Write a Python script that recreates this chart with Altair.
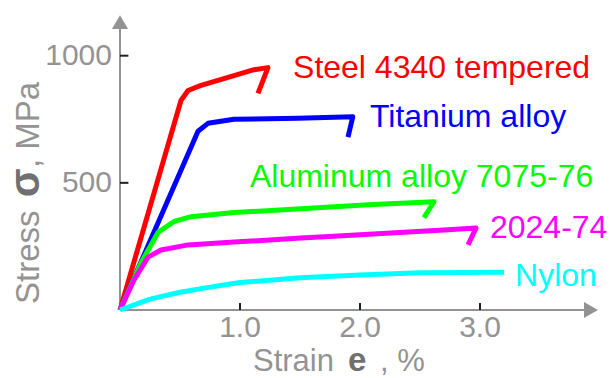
import altair as alt
import pandas as pd

# Stress-strain curves (strain in %, stress in MPa), drawn point by point
steel_strain = [0.0, 0.508, 0.567, 0.675, 0.95, 1.117, 1.233, 1.15]
steel_stress = [0, 824, 863, 883, 922, 945, 953, 852]

titanium_strain = [0.0, 0.65, 0.733, 0.95, 1.48, 1.94, 1.90]
titanium_stress = [0, 703, 734, 750, 754, 760, 680]

al7075_strain = [0.0, 0.175, 0.317, 0.45, 0.592, 0.95, 1.508, 2.067, 2.617, 2.533]
al7075_stress = [0, 185, 305, 348, 367, 383, 398, 414, 426, 363]

al2024_strain = [0.0, 0.117, 0.233, 0.342, 0.567, 0.95, 1.508, 1.78, 2.7, 2.967, 2.9]
al2024_stress = [0, 118, 208, 236, 256, 267, 283, 290, 315, 322, 256]

nylon_strain = [0.0, 0.25, 0.5, 0.75, 1.0, 1.5, 2.0, 2.5, 3.2]
nylon_stress = [0, 43, 70, 90, 108, 127, 138, 146, 148]

materials = ["Steel 4340 tempered", "Titanium alloy", "Aluminum alloy 7075-76", "2024-74", "Nylon"]
colors = ["#ff0000", "#0000ff", "#00ff00", "#ff00ff", "#00ffff"]

# where each material's name is written (strain, stress at text baseline)
label_strain = [1.442, 2.083, 1.083, 3.083, 3.292]
label_stress = [912, 720, 484, 283, 94]

x_ticks = [1.0, 2.0, 3.0]
y_ticks = [500, 1000]

X_MAX, Y_MAX = 4.0, 1160
X_ARROW, Y_ARROW = 3.925, 1132

GRAY = "#939393"
DARK_GRAY = "#707070"
FONT = "Liberation Sans"

series = [
    (steel_strain, steel_stress),
    (titanium_strain, titanium_stress),
    (al7075_strain, al7075_stress),
    (al2024_strain, al2024_stress),
    (nylon_strain, nylon_stress),
]
rows = []
for k, (name, (xs, ys)) in enumerate(zip(materials, series)):
    for i, (xv, yv) in enumerate(zip(xs, ys)):
        rows.append({"material": name, "rank": k, "i": i, "strain": xv, "stress": yv})
curves = pd.DataFrame(rows)

labels = pd.DataFrame({"material": materials, "strain": label_strain, "stress": label_stress})

xs = alt.X("strain:Q", scale=alt.Scale(domain=[0, X_MAX], nice=False, zero=False), axis=None)
ys = alt.Y("stress:Q", scale=alt.Scale(domain=[0, Y_MAX], nice=False, zero=False), axis=None)
color = alt.Color("material:N", scale=alt.Scale(domain=materials, range=colors), legend=None)

# axis lines with arrow heads
axis_lines = pd.DataFrame({"x": [0, 0], "y": [0, 0], "x2": [0, X_ARROW], "y2": [Y_ARROW, 0]})
axes_rule = alt.Chart(axis_lines).mark_rule(color=GRAY, strokeWidth=2).encode(
    x=alt.X("x:Q", scale=alt.Scale(domain=[0, X_MAX], nice=False), axis=None),
    x2="x2:Q",
    y=alt.Y("y:Q", scale=alt.Scale(domain=[0, Y_MAX], nice=False), axis=None),
    y2="y2:Q",
)
arrow_up = alt.Chart(pd.DataFrame({"strain": [0], "stress": [Y_ARROW]})).mark_point(
    shape="triangle-up", size=260, filled=True, color=GRAY, opacity=1
).encode(x=xs, y=ys)
arrow_right = alt.Chart(pd.DataFrame({"strain": [X_ARROW], "stress": [0]})).mark_point(
    shape="triangle-right", size=260, filled=True, color=GRAY, opacity=1
).encode(x=xs, y=ys)

# inward tick marks
x_tick_df = pd.DataFrame({"strain": x_ticks, "stress": [0] * 3, "stress2": [27.5] * 3})
x_tick_marks = alt.Chart(x_tick_df).mark_rule(color="#222222", strokeWidth=2).encode(
    x=xs, y=ys, y2="stress2:Q"
)
y_tick_df = pd.DataFrame({"strain": [0, 0], "strain2": [0.07, 0.07], "stress": y_ticks})
y_tick_marks = alt.Chart(y_tick_df).mark_rule(color="#222222", strokeWidth=2).encode(
    x=xs, x2="strain2:Q", y=ys
)

# tick labels
x_lab = alt.Chart(pd.DataFrame({"strain": x_ticks, "stress": [0] * 3})).mark_text(
    font=FONT, fontSize=30, color=GRAY, baseline="top", dy=3
).encode(x=xs, y=ys, text=alt.Text("strain:Q", format=".1f"))
y_lab = alt.Chart(pd.DataFrame({"strain": [0, 0], "stress": y_ticks})).mark_text(
    font=FONT, fontSize=30, color=GRAY, align="right", baseline="middle", dx=-8
).encode(x=xs, y=ys, text=alt.Text("stress:Q", format="d"))

lines = alt.Chart(curves).mark_line(strokeWidth=5, strokeJoin="round").encode(
    x=xs, y=ys, color=color, order="i:Q", detail="rank:O"
)

names = alt.Chart(labels).mark_text(
    font=FONT, fontSize=32, align="left", baseline="alphabetic"
).encode(x=xs, y=ys, text="material:N", color=color)

# axis titles, built from pieces so the symbols can be set in bold
def piece(text, x, y, size, weight="normal", col=GRAY, angle=0, align="left"):
    return alt.Chart(pd.DataFrame({"t": [text]})).mark_text(
        font=FONT, fontSize=size, fontWeight=weight, color=col, angle=angle,
        align=align, baseline="alphabetic"
    ).encode(x=alt.value(x), y=alt.value(y), text="t:N")

x_title = [
    piece("Strain", 133, 356, 31),
    piece("e", 228, 356, 33, "bold", DARK_GRAY),
    piece(", %", 260, 356, 31),
]
y_title = [
    piece("Stress", -81, 289, 33, angle=270),
    piece("σ", -81, 168, 42, "bold", DARK_GRAY, angle=270, align="center"),
    piece(", MPa", -81, 153, 33, angle=270),
]

chart = alt.layer(
    axes_rule, arrow_up, arrow_right, x_tick_marks, y_tick_marks, x_lab, y_lab,
    lines, names, *x_title, *y_title
).properties(
    width=480, height=295,
    autosize=alt.AutoSizeParams(type="none"),
    padding={"left": 120, "top": 15, "right": 11, "bottom": 68},
    background="white",
).configure_view(stroke=None)

chart.save("out.html", embed_options={"renderer": "svg", "actions": False})
